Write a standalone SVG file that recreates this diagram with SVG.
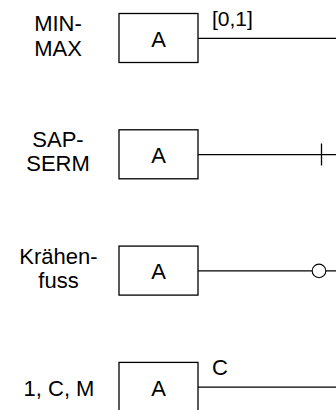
<svg xmlns="http://www.w3.org/2000/svg" width="336" height="410" viewBox="0 0 336 410">
<style>
text{font-family:"Liberation Sans",Arial,sans-serif;font-size:22px;fill:#000}
.lbl{text-anchor:middle}
.a{text-anchor:middle;font-size:22px}
.box{fill:#fff;stroke:#000;stroke-width:1.3}
.ln{stroke:#000;stroke-width:1.3;fill:none}
</style>
<rect width="336" height="410" fill="#fff"/>
<g id="label-minmax"><text class="lbl" x="58" y="30.5">MIN-</text><text class="lbl" x="58" y="55.5">MAX</text></g>
<g id="node-a1"><rect class="box" x="119" y="13.5" width="79" height="49"/><text class="a" x="158.5" y="46.5">A</text></g>
<g id="label-sapserm"><text class="lbl" x="58" y="147">SAP-</text><text class="lbl" x="58" y="171">SERM</text></g>
<g id="node-a2"><rect class="box" x="119" y="129.8" width="79" height="49"/><text class="a" x="158.5" y="162.8">A</text></g>
<g id="label-kraehenfuss"><text class="lbl" x="58.5" y="263.5">Krähen-</text><text class="lbl" x="58.5" y="288">fuss</text></g>
<g id="node-a3"><rect class="box" x="119" y="246.1" width="79" height="49"/><text class="a" x="158.5" y="279.1">A</text></g>
<g id="label-1cm"><text class="lbl" x="59" y="395.5">1, C, M</text></g>
<g id="node-a4"><rect class="box" x="119" y="362.4" width="79" height="60"/><text class="a" x="158.5" y="395.5">A</text></g>
<g id="connectors">
<line class="ln" x1="198" y1="38.3" x2="336" y2="38.3"/>
<text x="212" y="26" style="font-size:21px">[0,1]</text>
<line class="ln" x1="198" y1="154.6" x2="336" y2="154.6"/>
<line class="ln" x1="321.5" y1="143.5" x2="321.5" y2="165.5"/>
<line class="ln" x1="198" y1="270.9" x2="336" y2="270.9"/>
<circle cx="319" cy="270.9" r="6.8" fill="#fff" stroke="#000" stroke-width="1.1"/>
<line class="ln" x1="198" y1="387.2" x2="336" y2="387.2"/>
<text x="212" y="375">C</text>
</g>
</svg>
